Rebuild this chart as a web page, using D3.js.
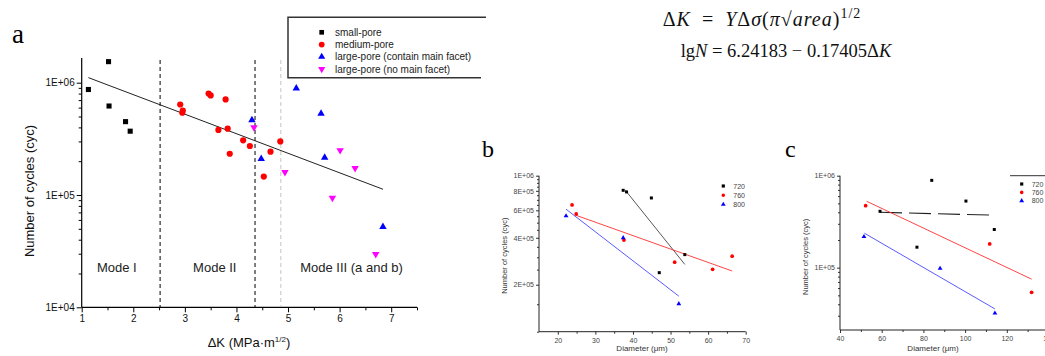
<!DOCTYPE html>
<html><head><meta charset="utf-8">
<script src="https://cdn.jsdelivr.net/npm/d3@7"></script>
<style>
html,body{margin:0;padding:0;background:#fff;}
svg{display:block;font-family:Arial,"Liberation Sans",sans-serif;}
</style></head>
<body><svg id="chart" width="1045" height="356"></svg>
<script>
// ---------- Panel a data ----------
const smallPore = [[1.13,8.7e5],[1.52,1.54e6],[1.53,6.2e5],[1.85,4.5e5],[1.94,3.7e5]];
const mediumPore = [[2.91,6.4e5],[2.96,5.65e5],[2.95,5.4e5],[3.46,8.0e5],[3.50,7.7e5],[3.79,7.1e5],
  [3.65,3.8e5],[3.83,3.9e5],[3.87,2.33e5],[4.13,3.07e5],[4.26,2.73e5],[4.66,2.43e5],[4.85,3.0e5],[4.53,1.46e5]];
const largeMain = [[4.30,4.65e5],[4.48,2.1e5],[5.16,8.9e5],[5.64,5.3e5],[5.71,2.15e5],[6.84,5.2e4]];
const largeNoMain = [[4.34,4.0e5],[4.94,1.6e5],[6.01,2.5e5],[6.30,1.73e5],[5.86,9.4e4],[6.70,2.97e4]];
const fitA = {a:6.24183, b:0.17405, x0:1.13, x1:6.84};
const modeBounds = [2.52, 4.36];
const modeBoundLight = [4.86];
const modeLabels = [["Mode I",1.68],["Mode II",3.58],["Mode III (a and b)",6.23]];
const legendA = ["small-pore","medium-pore","large-pore (contain main facet)","large-pore (no main facet)"];
const xTicksA = [1,2,3,4,5,6,7];
const xMinorA = [1.5,2.5,3.5,4.5,5.5,6.5,7.5];
const yTicksA = [1e4,1e5,1e6];

// ---------- Panel b data ----------
const b720 = [[37.4,8.06e5],[38.3,7.87e5],[44.9,7.2e5],[53.8,3.12e5],[47.0,2.39e5]];
const b760 = [[23.8,6.49e5],[24.9,5.69e5],[37.6,3.87e5],[51.1,2.79e5],[61.2,2.51e5],[66.4,3.05e5]];
const b800 = [[22.2,5.52e5],[37.4,4.0e5],[52.2,1.51e5]];
const bFit720 = [[38.0,8.05e5],[53.8,2.70e5]];
const bFit760 = [[24.6,5.6e5],[66.4,2.45e5]];
const bFit800 = [[22.2,6.1e5],[52.2,1.69e5]];
const xTicksB = [20,30,40,50,60,70];
const xMinorB = [25,35,45,55,65];
const yTicksB = [2e5,4e5,6e5,8e5,1e6];

// ---------- Panel c data ----------
const c720 = [[84.0,8.9e5],[100.4,5.3e5],[59.2,4.1e5],[114.0,2.6e5],[76.9,1.67e5]];
const c760 = [[52.3,4.72e5],[111.8,1.81e5],[131.9,5.4e4]];
const c800 = [[51.5,2.17e5],[88.0,9.8e4],[114.3,3.2e4]];
const cFit720 = [[59.2,4.0e5],[114.0,3.72e5]];
const cFit760 = [[52.8,5.27e5],[131.9,7.5e4]];
const cFit800 = [[51.7,2.37e5],[114.3,3.56e4]];
const xTicksC = [40,60,80,100,120,140];
const xMinorC = [50,70,90,110,130];
const yTicksC = [1e5,1e6];
const legendBC = ["720","760","800"];

const svg = d3.select("#chart");
const serif = "'Liberation Serif','Times New Roman',serif";
const expFmt = v => { const e = Math.floor(Math.log10(v)+1e-9); const m = Math.round(v/Math.pow(10,e)); return m+"E+"+String(e).padStart(2,"0"); };

function logMinors(dom){
  const out=[]; const lo=Math.floor(Math.log10(dom[0])), hi=Math.ceil(Math.log10(dom[1]));
  for(let e=lo;e<=hi;e++) for(let m=2;m<=9;m++){const v=m*Math.pow(10,e); if(v>=dom[0]&&v<=dom[1]) out.push(v);}
  return out;
}
function sym(type,size){return d3.symbol().type(type).size(size)();}
function drawMarkers(g,data,x,y,type,size,color,rot){
  g.selectAll(null).data(data).enter().append("path")
    .attr("d",sym(type,size))
    .attr("transform",d=>`translate(${x(d[0])},${y(d[1])})`+(rot?" rotate(180)":""))
    .attr("fill",color);
}

// ================= Panel a =================
const xA = d3.scaleLinear([1,7.5],[81.7,417]);
const yA = d3.scaleLog([1e4,Math.pow(10,6.22)],[307.3,58]);
const gA = svg.append("g");

gA.append("g").attr("transform","translate(0,307.3)")
  .call(d3.axisBottom(xA).tickValues(xTicksA).tickSize(5).tickPadding(3).tickFormat(d3.format("d")));
gA.append("g").attr("transform","translate(0,307.3)")
  .call(d3.axisBottom(xA).tickValues(xMinorA).tickSize(3).tickFormat(""));
gA.append("g").attr("transform","translate(81.7,0)")
  .call(d3.axisLeft(yA).tickValues(yTicksA).tickSize(5).tickPadding(2).tickFormat(expFmt));
gA.append("g").attr("transform","translate(81.7,0)")
  .call(d3.axisLeft(yA).tickValues(logMinors(yA.domain())).tickSize(3).tickFormat(""));
gA.selectAll(".domain").remove();
gA.selectAll(".tick text").attr("font-size",10).attr("fill","#111");
gA.append("line").attr("x1",xA(1)).attr("x2",xA(7.5)).attr("y1",307.3).attr("y2",307.3).attr("stroke","#000").attr("stroke-width",1.2);
gA.append("line").attr("x1",81.7).attr("x2",81.7).attr("y1",58).attr("y2",307.3).attr("stroke","#000").attr("stroke-width",1.2);

modeBounds.forEach(v=>gA.append("line").attr("x1",xA(v)).attr("x2",xA(v)).attr("y1",60).attr("y2",307)
  .attr("stroke","#000").attr("stroke-width",1).attr("stroke-dasharray","4,3"));
modeBoundLight.forEach(v=>gA.append("line").attr("x1",xA(v)).attr("x2",xA(v)).attr("y1",60).attr("y2",307)
  .attr("stroke","#c4c4c4").attr("stroke-width",1).attr("stroke-dasharray","4,3"));

modeLabels.forEach(([t,v])=>gA.append("text").attr("x",xA(v)).attr("y",272).attr("text-anchor","middle")
  .attr("font-size",13).attr("fill","#222").text(t));

const fitPts = [fitA.x0,fitA.x1].map(x=>[x,Math.pow(10,fitA.a-fitA.b*x)]);
gA.append("path").attr("d",d3.line().x(d=>xA(d[0])).y(d=>yA(d[1]))(fitPts))
  .attr("stroke","#222").attr("stroke-width",1).attr("fill","none");

drawMarkers(gA,smallPore,xA,yA,d3.symbolSquare,26,"#000");
drawMarkers(gA,mediumPore,xA,yA,d3.symbolCircle,30,"#ff0000");
drawMarkers(gA,largeMain,xA,yA,d3.symbolTriangle,24,"#0000ff");
drawMarkers(gA,largeNoMain,xA,yA,d3.symbolTriangle,24,"#ff00ff",true);

gA.append("text").attr("transform","translate(34,191) rotate(-90)").attr("text-anchor","middle")
  .attr("font-size",13).attr("fill","#111").text("Number of cycles (cyc)");
const xt = gA.append("text").attr("x",249).attr("y",347).attr("text-anchor","middle").attr("font-size",13).attr("fill","#111");
xt.append("tspan").text("ΔK (MPa·m");
xt.append("tspan").attr("font-size",8).attr("dy",-5).text("1/2");
xt.append("tspan").attr("dy",5).text(")");

svg.append("text").attr("x",12).attr("y",43).style("font-family",serif).attr("font-size",27).text("a");

const lg = gA.append("g");
lg.append("path").attr("d","M486,17.3 L288,17.3 L288,77.7 L481,77.7").attr("fill","none").attr("stroke","#333").attr("stroke-width",1.5);
const legSyms = [[d3.symbolSquare,"#000",false],[d3.symbolCircle,"#ff0000",false],[d3.symbolTriangle,"#0000ff",false],[d3.symbolTriangle,"#ff00ff",true]];
legendA.forEach((t,i)=>{
  const yy = 32.3 + i*12.25;
  lg.append("path").attr("d",sym(legSyms[i][0],i==1?26:22)).attr("fill",legSyms[i][1])
    .attr("transform",`translate(321.7,${yy})`+(legSyms[i][2]?" rotate(180)":""));
  lg.append("text").attr("x",335).attr("y",yy+3.6).attr("font-size",10).attr("fill","#222").text(t);
});

// ================= Equations =================
const e1 = svg.append("text").attr("x",762).attr("y",26).attr("text-anchor","middle").style("font-family",serif)
  .attr("font-size",20).attr("fill","#111").style("letter-spacing","1px");
e1.append("tspan").text("Δ"); e1.append("tspan").attr("font-style","italic").text("K");
e1.append("tspan").text("\u2002=\u2002"); e1.append("tspan").attr("font-style","italic").text("Y");
e1.append("tspan").text("Δ"); e1.append("tspan").attr("font-style","italic").text("σ");
e1.append("tspan").text("("); e1.append("tspan").attr("font-style","italic").text("π");
e1.append("tspan").text("√"); e1.append("tspan").attr("font-style","italic").text("area");
e1.append("tspan").text(")"); e1.append("tspan").attr("font-size",14).attr("dy",-8).text("1/2");
const e2 = svg.append("text").attr("x",786).attr("y",57).attr("text-anchor","middle").style("font-family",serif)
  .attr("font-size",18.5).attr("fill","#111");
e2.append("tspan").text("lg"); e2.append("tspan").attr("font-style","italic").text("N");
e2.append("tspan").text(" = 6.24183 − 0.17405Δ"); e2.append("tspan").attr("font-style","italic").text("K");

// ================= Small panels helper =================
function smallPanel(cfg){
  const g = svg.append("g");
  const x = cfg.x, y = cfg.y;
  const [x0,x1] = x.range(); const [yb,yt] = y.range();
  g.append("g").attr("transform",`translate(0,${yb})`)
    .call(d3.axisBottom(x).tickValues(cfg.xt).tickSize(3).tickPadding(3).tickFormat(d3.format("d")));
  g.append("g").attr("transform",`translate(0,${yb})`)
    .call(d3.axisBottom(x).tickValues(cfg.xm).tickSize(2).tickFormat(""));
  g.append("g").attr("transform",`translate(${x0},0)`)
    .call(d3.axisLeft(y).tickValues(cfg.yt).tickSize(3).tickPadding(2).tickFormat(expFmt));
  g.append("g").attr("transform",`translate(${x0},0)`)
    .call(d3.axisLeft(y).tickValues(cfg.ym).tickSize(2).tickFormat(""));
  g.selectAll(".domain").remove();
  g.selectAll(".tick line").attr("stroke","#333");
  g.selectAll(".tick text").attr("font-size",7).attr("fill","#444");
  g.append("line").attr("x1",x0).attr("x2",x1).attr("y1",yb).attr("y2",yb).attr("stroke","#222").attr("stroke-width",1);
  g.append("line").attr("x1",x0).attr("x2",x0).attr("y1",yt).attr("y2",yb).attr("stroke","#222").attr("stroke-width",1);
  const ln = d3.line().x(d=>x(d[0])).y(d=>y(d[1]));
  cfg.fits.forEach(f=>g.append("path").attr("d",ln(f.d)).attr("stroke",f.c).attr("stroke-width",f.w||0.9).attr("fill","none").attr("stroke-dasharray",f.dash||null));
  drawMarkers(g,cfg.s[0],x,y,d3.symbolSquare,9,"#000");
  drawMarkers(g,cfg.s[1],x,y,d3.symbolCircle,11,"#ff0000");
  drawMarkers(g,cfg.s[2],x,y,d3.symbolTriangle,10,"#0000ff");
  g.append("text").attr("transform",`translate(${cfg.ytX},${(yb+yt)/2+(cfg.ytDy||0)}) rotate(-90)`).attr("text-anchor","middle")
    .attr("font-size",7.5).attr("fill","#333").text("Number of cycles (cyc)");
  g.append("text").attr("x",cfg.xtC).attr("y",351).attr("text-anchor","middle")
    .attr("font-size",8).attr("fill","#333").text("Diameter (μm)");
  const cols = ["#000","#ff0000","#0000ff"], types=[d3.symbolSquare,d3.symbolCircle,d3.symbolTriangle];
  legendBC.forEach((t,i)=>{
    const yy = cfg.legY + i*cfg.legDy;
    g.append("path").attr("d",sym(types[i],10)).attr("fill",cols[i]).attr("transform",`translate(${cfg.legX},${yy})`);
    g.append("text").attr("x",cfg.legX+10).attr("y",yy+2.5).attr("font-size",7).attr("fill","#444").text(t);
  });
  return g;
}

smallPanel({
  x: d3.scaleLinear([15,70],[539,745.7]),
  y: d3.scaleLog([1e5,1e6],[331.7,175.7]),
  xt: xTicksB, xm: xMinorB, yt: yTicksB,
  ym: [1e5,1.5e5,2.5e5,3e5,3.5e5,4.5e5,5e5,5.5e5,6.5e5,7e5,7.5e5,8.5e5,9e5,9.5e5],
  fits:[{d:bFit720,c:"#444"},{d:bFit760,c:"#ff3030"},{d:bFit800,c:"#4848ff"}],
  s:[b720,b760,b800], ytX:507, ytDy:2, xtC:642,
  legX:723.3, legY:186, legDy:9.2
});
svg.append("text").attr("x",482).attr("y",157).style("font-family",serif).attr("font-size",24).text("b");

const gc = smallPanel({
  x: d3.scaleLinear([40,140],[840,1048.5]),
  y: d3.scaleLog([2.1e4,1e6],[330,175.7]),
  xt: xTicksC, xm: xMinorC, yt: yTicksC,
  ym: logMinors([2.1e4,1e6]),
  fits:[{d:cFit720,c:"#222",w:1.1,dash:"22,7"},{d:cFit760,c:"#ff3030"},{d:cFit800,c:"#4848ff"}],
  s:[c720,c760,c800], ytX:808, ytDy:4, xtC:933,
  legX:1021.7, legY:184, legDy:8.4
});
gc.append("line").attr("x1",1010).attr("x2",1045).attr("y1",175.7).attr("y2",175.7).attr("stroke","#333").attr("stroke-width",1);
svg.append("text").attr("x",785).attr("y",157).style("font-family",serif).attr("font-size",24).text("c");
</script>
</body></html>
